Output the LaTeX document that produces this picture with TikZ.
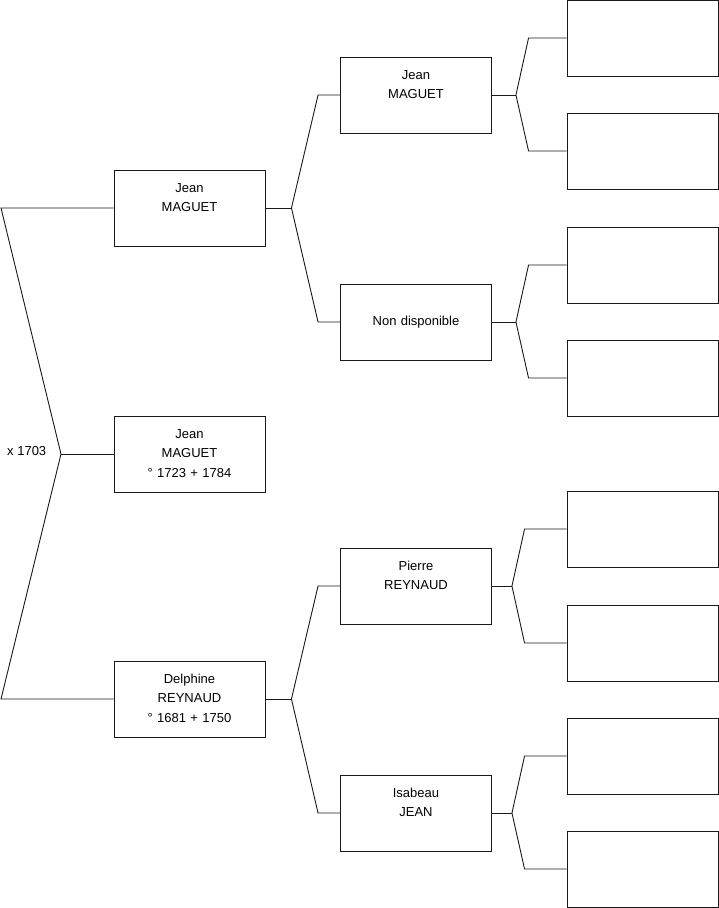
\documentclass[tikz,border=0pt]{standalone}
\usepackage{fontspec}
\setmainfont{Liberation Sans}
\usetikzlibrary{positioning, calc}

\begin{document}
\begin{tikzpicture}[
  x=1pt, y=-1pt,
  person/.style = {rectangle, draw=black!90, line width=0.9pt, fill=white,
                   minimum width=151pt, minimum height=76pt, inner sep=0pt,
                   text width=145pt, align=center,
                   font=\fontsize{13}{19.5}\selectfont},
  blank/.style  = {rectangle, draw=black!90, line width=0.9pt, fill=white,
                   minimum width=151pt, minimum height=76pt, inner sep=0pt},
  link/.style   = {black!90, line width=0.9pt},
  wedding/.style = {font=\fontsize{13}{15}\selectfont, anchor=west, inner sep=0pt},
]
\useasboundingbox (0,0) rectangle (719,908);

%% Generation 1
\node[person] (f) at (189.5,208) {\strut Jean\\\strut MAGUET\\\strut};
\node[person] (p) at (189.5,454) {\strut Jean\\\strut MAGUET\\\strut ° 1723 + 1784};
\node[person] (m) at (189.5,699) {\strut Delphine\\\strut REYNAUD\\\strut ° 1681 + 1750};

%% Generation 2
\node[person] (ff) at (416,95)  {\strut Jean\\\strut MAGUET\\\strut};
\node[person] (fm) at (416,322) {\strut Non disponible};
\node[person] (mf) at (416,586) {\strut Pierre\\\strut REYNAUD\\\strut};
\node[person] (mm) at (416,813) {\strut Isabeau\\\strut JEAN\\\strut};

%% Generation 3 (empty)
\node[blank] (fff) at (642.5,38)  {};
\node[blank] (ffm) at (642.5,151) {};
\node[blank] (fmf) at (642.5,265) {};
\node[blank] (fmm) at (642.5,378) {};
\node[blank] (mff) at (642.5,529) {};
\node[blank] (mfm) at (642.5,643) {};
\node[blank] (mmf) at (642.5,756) {};
\node[blank] (mmm) at (642.5,869) {};

%% Marriage bracket
\coordinate (fa)  at (1,208);
\coordinate (mo)  at (1,699);
\coordinate (mar) at (61,454);
\draw[link] (f.west) -- (fa) -- (mar) -- (mo) -- (m.west);
\draw[link] (mar) -- (p.west);
\node[wedding] (wed) at (7,451) {x 1703};

%% Parent links
\foreach \a/\b/\c/\h/\k in {f/ff/fm/26/22, m/mf/mm/26/22,
    ff/fff/ffm/24/38, fm/fmf/fmm/24/38,
    mf/mff/mfm/20/42, mm/mmf/mmm/20/42}
{
  \coordinate (\a-j) at ($(\a.east)+(\h,0)$);
  \draw[link] (\a.east) -- (\a-j);
  \draw[link] (\b.west) -- ($(\b.west)+(-\k,0)$) -- (\a-j)
              -- ($(\c.west)+(-\k,0)$) -- (\c.west);
}

\end{tikzpicture}
\end{document}
